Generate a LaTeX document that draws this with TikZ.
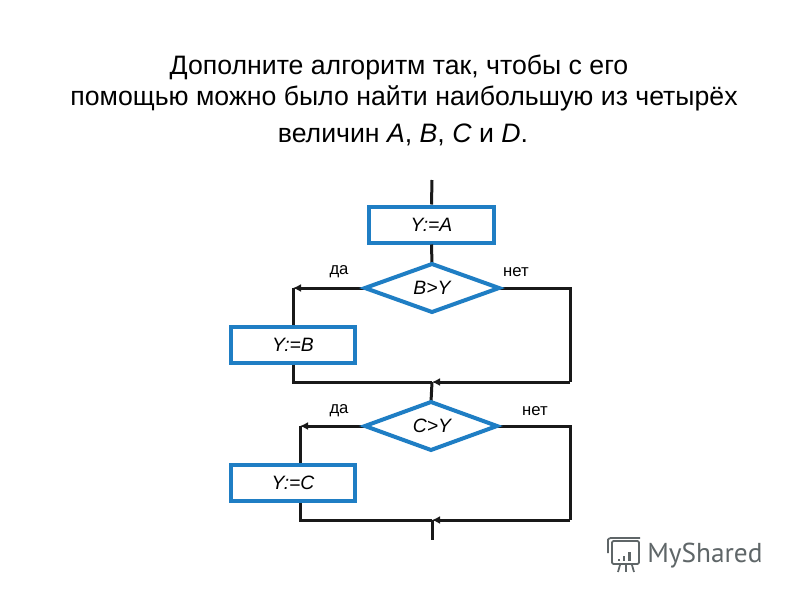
\documentclass[tikz,border=0pt]{standalone}
\usepackage{fontspec}
\setmainfont{Liberation Sans}
\newfontfamily\logofont{PT Sans}
\usetikzlibrary{arrows.meta}
\definecolor{flowblue}{HTML}{1F7EC4}
\definecolor{logogrey}{HTML}{5F6668}
\tikzset{
  x=0.75pt,y=-0.75pt,
  boxnode/.style={draw=flowblue,line width=3pt,fill=white,minimum width=93.5pt,minimum height=27pt,inner sep=0pt,font=\fontsize{14.5}{16}\selectfont\itshape},
  decnode/.style={font=\fontsize{14.5}{16}\selectfont\itshape,inner sep=0pt},
  lab/.style={font=\fontsize{12.5}{14}\selectfont,inner sep=0pt},
  ttl/.style={font=\fontsize{20}{24}\selectfont,inner sep=0pt,anchor=base},
  flow/.style={draw=black!90,line width=2.25pt,line join=miter},
  tip/.style={-{Latex[length=6pt,width=6pt]}},
  dia/.style={draw=flowblue,line width=3pt,fill=white,line join=miter},
  lg/.style={draw=logogrey,line width=1.3pt}
}
\begin{document}
\begin{tikzpicture}
\useasboundingbox (0,0) rectangle (800,600);
\fill[white] (0,0) rectangle (800,600);
% title
\node[ttl] (t1) at (399,74) {Дополните алгоритм так, чтобы с его};
\node[ttl] (t2) at (404,105) {помощью можно было найти наибольшую из четырёх};
\node[ttl] (t3) at (403,142) {величин \textit{A}, \textit{B}, \textit{C} и \textit{D}.};
% anchors
\coordinate (top) at (432,180);
\coordinate (bot) at (432,540);
\coordinate (dlB) at (365,288);
\coordinate (drB) at (499,288);
\coordinate (dtB) at (432,264);
\coordinate (dbB) at (432,312);
\coordinate (dlC) at (365,426);
\coordinate (drC) at (497,426);
\coordinate (dtC) at (431,402);
\coordinate (dbC) at (431,450);
\coordinate (m1) at (432,382);
\coordinate (m2) at (432,520);
\coordinate (lB) at (293,288);
\coordinate (lC) at (300,426);
% boxes
\node[boxnode] (a) at (431.5,224.5) {Y:=A};
\node[boxnode] (b) at (293,344.5) {Y:=B};
\node[boxnode] (c) at (293,483) {Y:=C};
% connectors
\draw[flow] (top) -- (a.north);
\draw[flow] (a.south) -- (dtB);
\draw[flow,tip] (dlB) -- (lB);
\draw[flow] (lB) -- (lB |- b.north);
\draw[flow] (drB) -- (570,288) -- (570,382);
\draw[flow,tip] (570,382) -- (m1);
\draw[flow] (lB |- b.south) -- (293,382) -- (m1);
\draw[flow] (m1) -- (dtC);
\draw[flow,tip] (dlC) -- (lC);
\draw[flow] (lC) -- (lC |- c.north);
\draw[flow] (drC) -- (570,426) -- (570,520);
\draw[flow,tip] (570,520) -- (m2);
\draw[flow] (lC |- c.south) -- (300,520) -- (m2);
\draw[flow] (m2) -- (bot);
% decisions
\path[dia] (dlB) -- (dtB) -- (drB) -- (dbB) -- cycle;
\path[dia] (dlC) -- (dtC) -- (drC) -- (dbC) -- cycle;
\node[decnode] (bt) at (432,288) {B>Y};
\node[decnode] (ct) at (432,426) {C>Y};
% labels
\node[lab] (l1) at (339,272) {да};
\node[lab] (l2) at (516,272) {нет};
\node[lab] (l3) at (339,411) {да};
\node[lab] (l4) at (535,411) {нет};
% logo
\draw[lg,rounded corners=1pt] (612,541) -- (639,541) -- (639,564) -- (612,564) -- cycle;
\draw[lg,rounded corners=1pt] (608,553) -- (608,541) to[out=90,in=180] (612,538) -- (640,538);
\fill[logogrey] (618,559) rectangle (620,561);
\fill[logogrey] (623,556) rectangle (625,561);
\fill[logogrey] (628,552) rectangle (631,561);
\draw[lg] (620,565) -- (618,572);
\draw[lg] (626,565) -- (626,572);
\draw[lg] (632,565) -- (634,572);
\node[inner sep=0pt,anchor=base west,text=logogrey,font=\logofont\fontsize{20.5}{24}\selectfont] (logo) at (647,562) {MyShared};
\end{tikzpicture}
\end{document}
